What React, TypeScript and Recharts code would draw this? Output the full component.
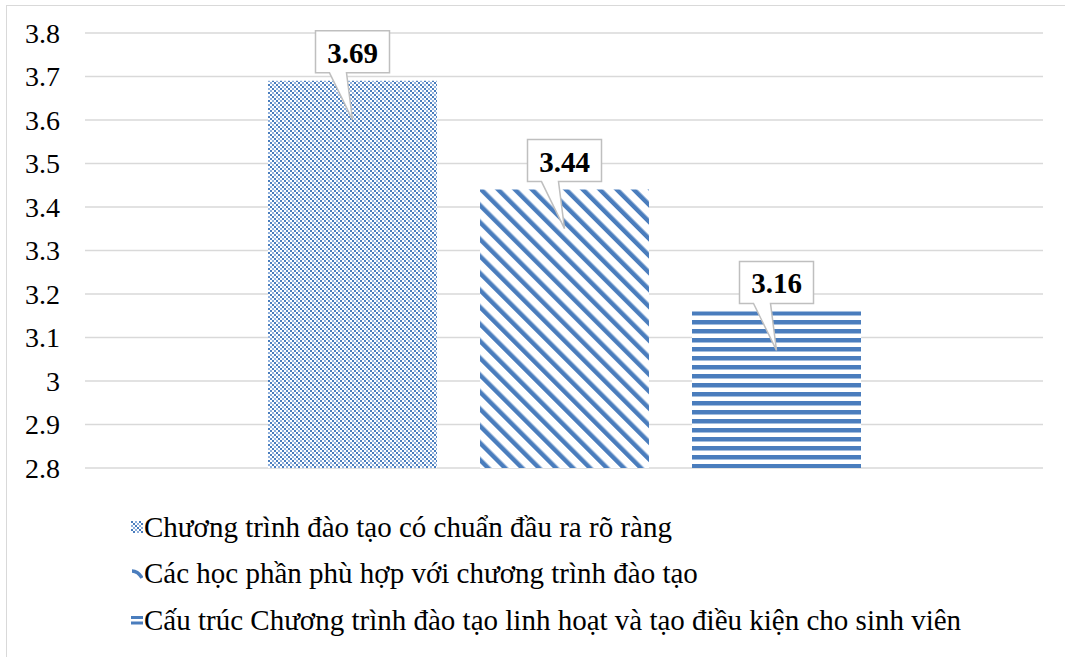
import React from 'react'
import { BarChart, Bar, XAxis, YAxis, CartesianGrid, Legend, LabelList } from 'recharts'

const categories = ['']
const seriesNames = [
  'Chương trình đào tạo có chuẩn đầu ra rõ ràng',
  'Các học phần phù hợp với chương trình đào tạo',
  'Cấu trúc Chương trình đào tạo linh hoạt và tạo điều kiện cho sinh viên',
]
const seriesValues = [3.69, 3.44, 3.16]
const yTicks = [2.8, 2.9, 3, 3.1, 3.2, 3.3, 3.4, 3.5, 3.6, 3.7, 3.8]

const BLUE = '#4a7dbd'
const BLUE_LIGHT = '#8fb0dc'
const GRID = '#d9d9d9'
const SERIF = "'Liberation Serif', 'Times New Roman', serif"
const patternIds = ['fillDiamond', 'fillDiagonal', 'fillHorizontal']
const seriesKeys = seriesNames.map((_, i) => `s${i}`)

const data = categories.map((name) => {
  const row: Record<string, string | number> = { name }
  seriesKeys.forEach((k, i) => {
    row[k] = seriesValues[i]
  })
  return row
})

function Patterns() {
  return (
    <svg width={0} height={0} style={{ position: 'absolute' }}>
      <defs>
        <pattern id="fillDiamond" width={8} height={8} patternUnits="userSpaceOnUse">
          <rect width={8} height={8} fill="#fff" />
          <rect x={0} y={0} width={2} height={2} fill={BLUE} />
          <rect x={4} y={0} width={2} height={2} fill={BLUE_LIGHT} />
          <rect x={2} y={2} width={2} height={2} fill={BLUE} />
          <rect x={6} y={2} width={2} height={2} fill={BLUE_LIGHT} />
          <rect x={0} y={4} width={2} height={2} fill={BLUE_LIGHT} />
          <rect x={4} y={4} width={2} height={2} fill={BLUE} />
          <rect x={2} y={6} width={2} height={2} fill={BLUE_LIGHT} />
          <rect x={6} y={6} width={2} height={2} fill={BLUE} />
        </pattern>
        <pattern
          id="fillDiagonal"
          width={12}
          height={12}
          patternUnits="userSpaceOnUse"
          patternTransform="rotate(-45)"
        >
          <rect width={12} height={12} fill="#fff" />
          <rect x={0} y={0} width={4.5} height={12} fill={BLUE} />
        </pattern>
        <pattern id="fillHorizontal" width={9} height={9} y={311} patternUnits="userSpaceOnUse">
          <rect width={9} height={9} fill="#fff" />
          <rect x={0} y={0} width={9} height={4.5} fill={BLUE} />
        </pattern>
      </defs>
    </svg>
  )
}

// callout box above each bar with a pointer dropping into the bar
const renderCallout = (props: any) => {
  const { x, y, width, value } = props
  const cx = x + width / 2
  const top = y
  const bw = 74
  const left = cx - bw / 2
  const right = cx + bw / 2
  const boxTop = top - 50
  const boxBottom = top - 8
  const d = [
    `M${left},${boxTop}`,
    `L${right},${boxTop}`,
    `L${right},${boxBottom}`,
    `L${cx - 6},${boxBottom}`,
    `L${cx},${top + 39}`,
    `L${cx - 23},${boxBottom}`,
    `L${left},${boxBottom}`,
    'Z',
  ].join(' ')
  return (
    <g>
      <path d={d} fill="#fff" stroke="#bfbfbf" strokeWidth={1.5} />
      <text
        x={cx}
        y={top - 18}
        textAnchor="middle"
        fontFamily="Liberation Serif"
        fontWeight="bold"
        fontSize={29}
        fill="#000"
      >
        {Number(value).toFixed(2)}
      </text>
    </g>
  )
}

function LegendIcon({ index }: { index: number }) {
  if (index === 0) {
    return (
      <svg width={12} height={12}>
        <rect width={12} height={12} fill="url(#fillDiamond)" />
      </svg>
    )
  }
  if (index === 1) {
    return (
      <svg width={12} height={12}>
        <path d="M1,3 Q7,3 11,10" fill="none" stroke={BLUE} strokeWidth={3.5} />
      </svg>
    )
  }
  return (
    <svg width={12} height={12}>
      <rect x={0} y={2} width={12} height={3} fill={BLUE} />
      <rect x={0} y={7.5} width={12} height={3} fill={BLUE} />
    </svg>
  )
}

const renderLegend = () => (
  <div style={{ fontFamily: SERIF, fontSize: 29, color: '#000' }}>
    {seriesNames.map((name, i) => (
      <div
        key={name}
        style={{ display: 'flex', alignItems: 'center', height: 46.5, whiteSpace: 'nowrap' }}
      >
        <LegendIcon index={i} />
        <span style={{ marginLeft: 1 }}>{name}</span>
      </div>
    ))}
  </div>
)

export default function App() {
  return (
    <div style={{ position: 'relative', width: 1065, height: 657, overflow: 'hidden', background: '#fff' }}>
      <style>{`body { margin: 0; } .recharts-wrapper svg text { font-family: ${SERIF}; }`}</style>
      <Patterns />
      <div
        style={{
          position: 'absolute',
          left: 6,
          top: 5,
          width: 1100,
          height: 700,
          border: `1.5px solid ${GRID}`,
        }}
      />
      <div style={{ position: 'absolute', left: 0, top: 0 }}>
        <BarChart
          width={1065}
          height={657}
          data={data}
          margin={{ top: 33, right: 22, bottom: 189, left: 0 }}
          barSize={169}
          barGap={43}
        >
          <CartesianGrid vertical={false} stroke={GRID} strokeWidth={1.5} />
          <XAxis dataKey="name" hide />
          <YAxis
            width={85}
            domain={[2.8, 3.8]}
            ticks={yTicks}
            interval={0}
            axisLine={false}
            tickLine={false}
            tickSize={0}
            tickMargin={25}
            tickFormatter={(v: number) => String(Number(v.toFixed(1)))}
            tick={{ fill: '#000', fontSize: 28, fontFamily: 'Liberation Serif' }}
          />
          <Legend
            layout="vertical"
            align="center"
            verticalAlign="middle"
            content={renderLegend}
            wrapperStyle={{ left: 131, top: 504, width: 'auto' }}
          />
          {seriesKeys.map((k, i) => (
            <Bar
              key={k}
              dataKey={k}
              name={seriesNames[i]}
              fill={`url(#${patternIds[i]})`}
              isAnimationActive={false}
            >
              <LabelList dataKey={k} content={renderCallout} />
            </Bar>
          ))}
        </BarChart>
      </div>
    </div>
  )
}
